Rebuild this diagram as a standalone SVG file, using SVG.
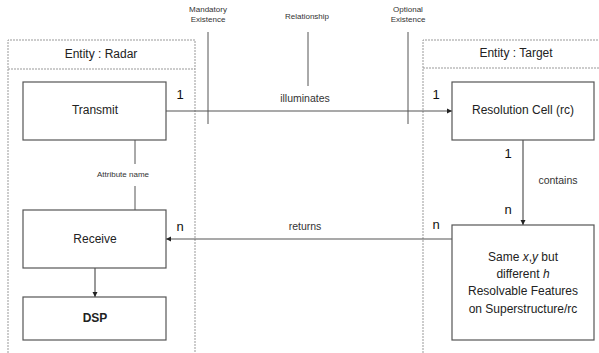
<svg xmlns="http://www.w3.org/2000/svg" width="599" height="353" viewBox="0 0 599 353">
<style>
text{font-family:"Liberation Sans",Arial,sans-serif;fill:#222}
.frame{fill:none;stroke:#999;stroke-width:1;stroke-dasharray:2,1}
.box{fill:#fff;stroke:#555;stroke-width:1.2}
.lbl{font-size:12px;text-anchor:middle}
.sm{font-size:8px;text-anchor:middle;fill:#333}
.card{font-size:13px;text-anchor:middle;fill:#111}
.rel{font-size:10.5px;text-anchor:middle;fill:#333}
.ln{stroke:#555;stroke-width:1.2;fill:none}
.tick{stroke:#555;stroke-width:1;fill:none}
</style>
<defs>
<marker id="ah" viewBox="0 0 6 6" refX="6" refY="3" markerWidth="4.5" markerHeight="4.5" orient="auto"><path d="M0,0L6,3L0,6z" fill="#222"/></marker>
</defs>
<rect width="599" height="353" fill="#fff"/>
<g id="entity-radar">
<path class="frame" d="M8,353V40H195V353M8,69H195"/>
<text class="lbl" x="101" y="58">Entity : Radar</text>
</g>
<g id="entity-target">
<path class="frame" d="M423,353V40H600M423,68H600"/>
<text class="lbl" x="516" y="57">Entity : Target</text>
</g>
<g id="labels">
<text class="sm" x="208" y="12">Mandatory</text>
<text class="sm" x="208" y="22">Existence</text>
<text class="sm" x="307" y="19">Relationship</text>
<text class="sm" x="408" y="12">Optional</text>
<text class="sm" x="408" y="22">Existence</text>
<text class="sm" x="123" y="177">Attribute name</text>
</g>
<g id="connectors">
<path class="ln" d="M166,111H452" marker-end="url(#ah)"/>
<path class="ln" d="M452,239H166" marker-end="url(#ah)"/>
<path class="ln" d="M523,140V225" marker-end="url(#ah)"/>
<path class="ln" d="M95,268V297" marker-end="url(#ah)"/>
<path class="tick" d="M208,32V124M308,32V86M408,32V124M135,122V164M135,186V227"/>
<text class="rel" x="305" y="102">illuminates</text>
<text class="rel" x="305" y="230">returns</text>
<text class="rel" x="558" y="184">contains</text>
<text class="card" x="180" y="99">1</text>
<text class="card" x="436" y="99">1</text>
<text class="card" x="508" y="158">1</text>
<text class="card" x="508" y="214">n</text>
<text class="card" x="436" y="229">n</text>
<text class="card" x="180" y="231">n</text>
</g>
<g id="transmit">
<rect class="box" x="23" y="82" width="143" height="58"/>
<text class="lbl" x="95" y="114">Transmit</text>
</g>
<g id="receive">
<rect class="box" x="23" y="210" width="143" height="58"/>
<text class="lbl" x="95" y="243">Receive</text>
</g>
<g id="dsp">
<rect class="box" x="23" y="297" width="143" height="43"/>
<text class="lbl" x="95" y="322" font-weight="bold">DSP</text>
</g>
<g id="resolution-cell">
<rect class="box" x="452" y="82" width="142" height="58"/>
<text class="lbl" x="523" y="114">Resolution Cell (rc)</text>
</g>
<g id="features">
<rect class="box" x="452" y="225" width="142" height="115"/>
<text class="lbl" x="523" y="261">Same <tspan font-style="italic">x</tspan>,<tspan font-style="italic">y</tspan> but</text>
<text class="lbl" x="523" y="278">different <tspan font-style="italic">h</tspan></text>
<text class="lbl" x="523" y="295">Resolvable Features</text>
<text class="lbl" x="523" y="313">on Superstructure/rc</text>
</g>
</svg>
